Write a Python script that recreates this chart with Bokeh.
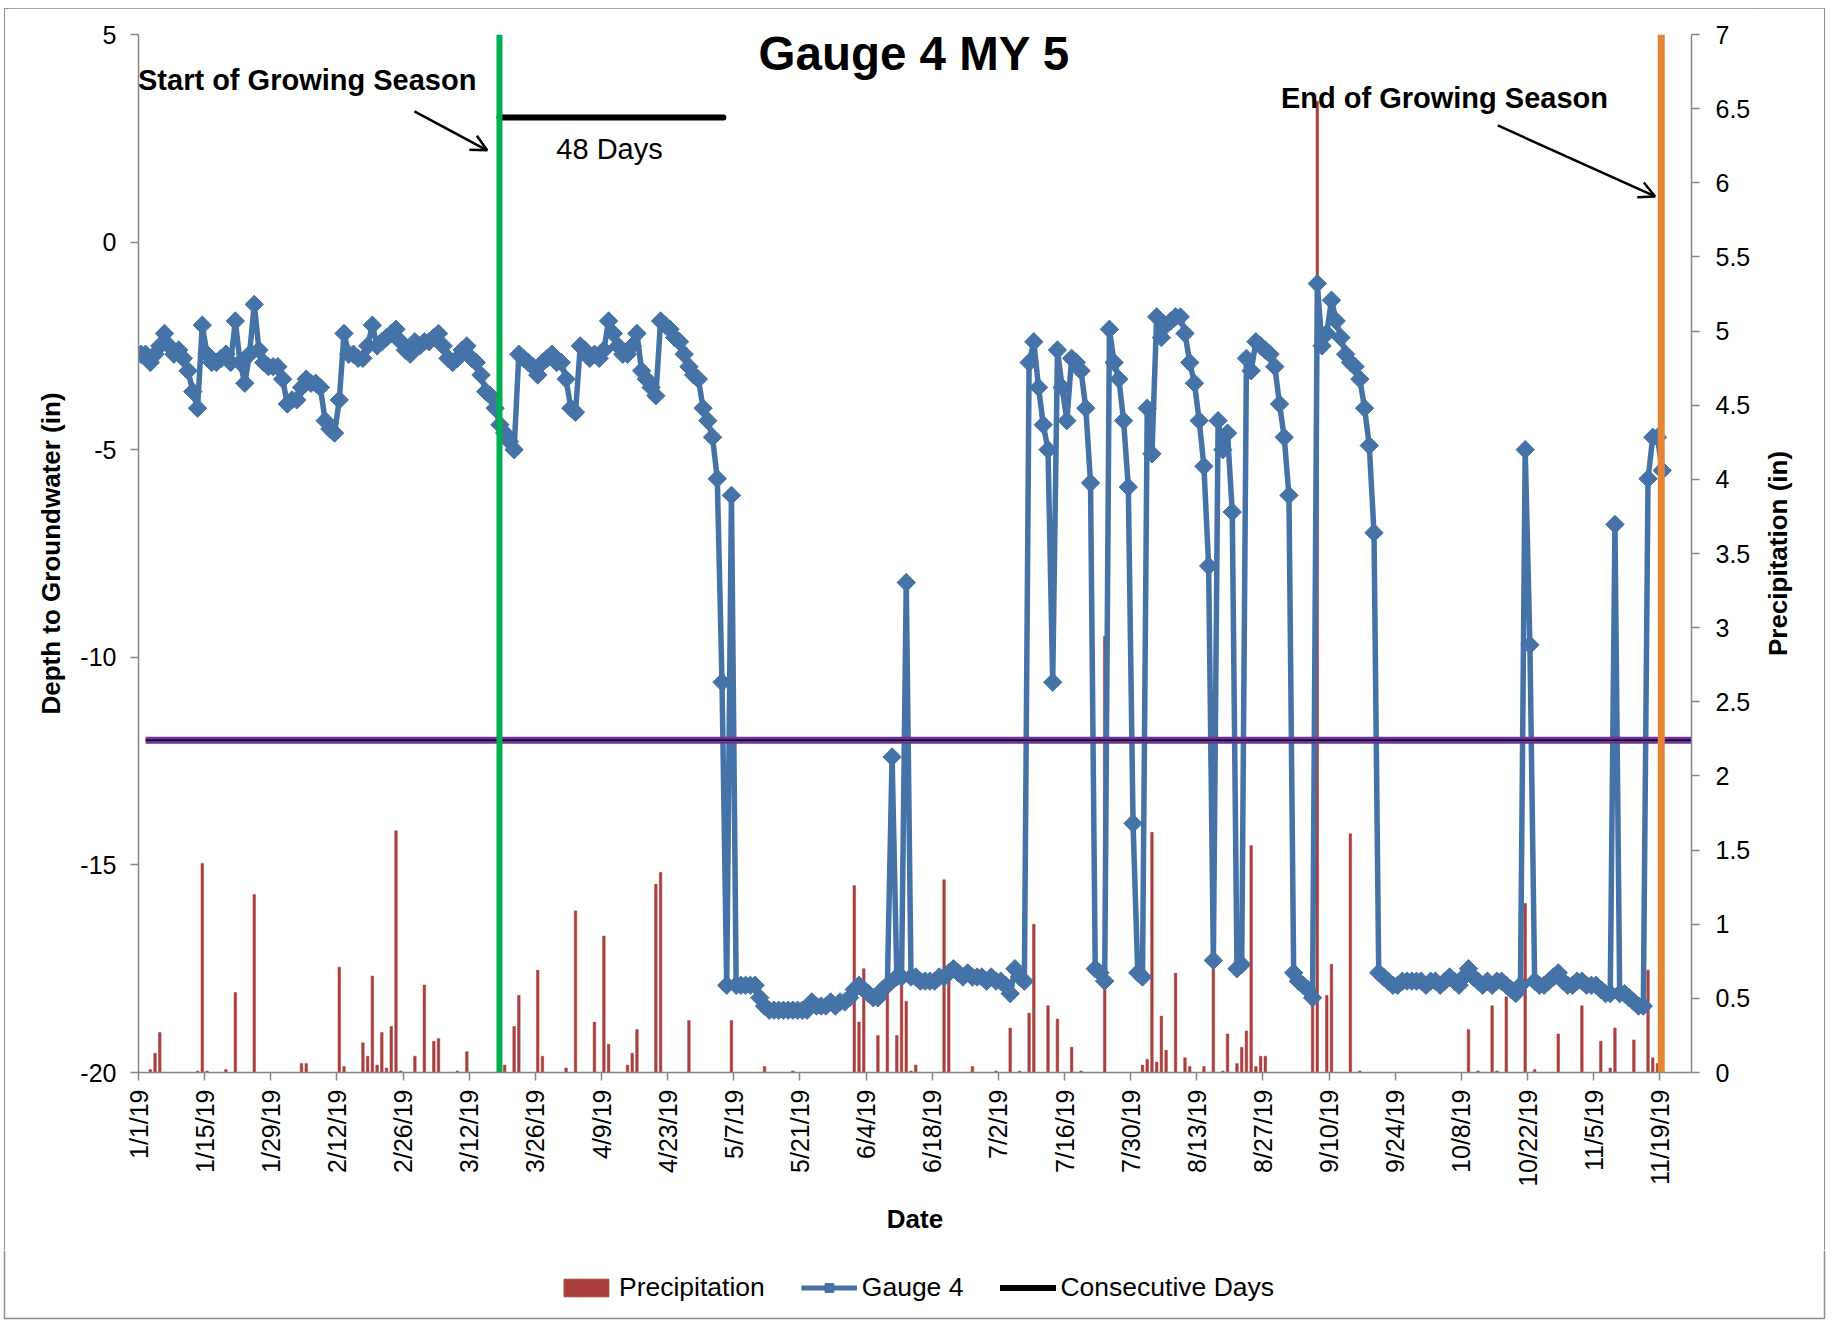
import math
from bokeh.plotting import figure
from bokeh.layouts import column, row
from bokeh.models import (Range1d, LinearAxis, FixedTicker, Label, Arrow, OpenHead,
                          Legend, LegendItem, Span, Div)
from bokeh.embed import file_html
from bokeh.resources import INLINE

# ---------------- data ----------------
# Daily depth to groundwater (in), Gauge 4, one value per day starting 1/1/19
gauge4_depth_in = [
    -2.7, -2.7, -2.9, -2.7, -2.5, -2.2, -2.5, -2.7, -2.6, -2.8,
    -3.1, -3.6, -4.0, -2.0, -2.7, -2.9, -2.9, -2.8, -2.7, -2.9,
    -1.9, -2.9, -3.4, -2.7, -1.5, -2.6, -2.9, -3.0, -3.0, -3.0,
    -3.3, -3.9, -3.8, -3.8, -3.5, -3.3, -3.4, -3.4, -3.5, -4.3,
    -4.5, -4.6, -3.8, -2.2, -2.7, -2.7, -2.8, -2.8, -2.5, -2.0,
    -2.5, -2.4, -2.3, -2.2, -2.1, -2.4, -2.6, -2.7, -2.4, -2.5,
    -2.4, -2.4, -2.3, -2.2, -2.5, -2.8, -2.9, -2.8, -2.6, -2.5,
    -2.8, -2.9, -3.2, -3.6, -3.7, -4.0, -4.4, -4.6, -4.8, -5.0,
    -2.7, -2.8, -2.9, -3.0, -3.2, -2.9, -2.8, -2.7, -2.9, -2.9,
    -3.3, -4.0, -4.1, -2.5, -2.6, -2.8, -2.7, -2.8, -2.6, -1.9,
    -2.2, -2.5, -2.7, -2.7, -2.5, -2.2, -3.1, -3.3, -3.5, -3.7,
    -1.9, -2.0, -2.1, -2.3, -2.4, -2.7, -3.0, -3.2, -3.3, -4.0,
    -4.3, -4.7, -5.7, -10.6, -17.9, -6.1, -17.9, -17.9, -17.9, -17.9,
    -17.9, -18.2, -18.4, -18.5, -18.5, -18.5, -18.5, -18.5, -18.5, -18.5,
    -18.5, -18.5, -18.3, -18.4, -18.4, -18.4, -18.3, -18.4, -18.3, -18.3,
    -18.2, -18.0, -17.9, -18.0, -18.1, -18.2, -18.2, -18.0, -17.9, -12.4,
    -17.7, -17.7, -8.2, -17.7, -17.7, -17.8, -17.8, -17.8, -17.8, -17.7,
    -17.7, -17.6, -17.5, -17.6, -17.7, -17.6, -17.7, -17.7, -17.7, -17.8,
    -17.7, -17.8, -17.8, -17.9, -18.1, -17.5, -17.7, -17.8, -2.9, -2.4,
    -3.5, -4.4, -5.0, -10.6, -2.6, -3.5, -4.3, -2.8, -2.9, -3.1,
    -4.0, -5.8, -17.5, -17.6, -17.8, -2.1, -2.9, -3.3, -4.3, -5.9,
    -14.0, -17.6, -17.7, -4.0, -5.1, -1.8, -2.3, -2.0, -1.9, -1.8,
    -1.8, -2.2, -2.9, -3.4, -4.3, -5.4, -7.8, -17.3, -4.3, -5.0,
    -4.6, -6.5, -17.5, -17.4, -2.8, -3.1, -2.4, -2.5, -2.6, -2.7,
    -3.0, -3.9, -4.7, -6.1, -17.6, -17.8, -17.9, -18.0, -18.2, -1.0,
    -2.5, -2.2, -1.4, -1.9, -2.3, -2.7, -2.9, -3.0, -3.3, -4.0,
    -4.9, -7.0, -17.6, -17.7, -17.8, -17.9, -17.9, -17.8, -17.8, -17.8,
    -17.8, -17.8, -17.9, -17.8, -17.8, -17.9, -17.8, -17.7, -17.8, -17.9,
    -17.7, -17.5, -17.7, -17.8, -17.9, -17.8, -17.9, -17.8, -17.8, -17.9,
    -18.0, -18.1, -17.9, -5.0, -9.7, -17.8, -17.9, -17.9, -17.8, -17.7,
    -17.6, -17.8, -17.9, -17.9, -17.8, -17.8, -17.9, -17.9, -17.9, -18.0,
    -18.1, -18.1, -6.8, -18.1, -18.1, -18.2, -18.3, -18.4, -18.4, -5.7,
    -4.7, -4.7, -5.5,
]

# Daily precipitation (in): day index (0 = 1/1/19) and amount
precip_day = [
    2, 3, 4, 12, 13, 14, 18, 20, 24, 34, 35, 42, 43, 47, 48, 49, 50, 51, 52, 53,
    54, 55, 58, 60, 62, 63, 67, 69, 77, 79, 80, 84, 85, 90, 92, 96, 98, 99, 103,
    104, 105, 109, 110, 116, 125, 132, 138, 151, 152, 153, 156, 158, 160, 161,
    162, 163, 164, 170, 171, 176, 181, 184, 186, 188, 189, 192, 194, 197, 199,
    204, 212, 213, 214, 215, 216, 217, 219, 221, 222, 225, 227, 229, 230, 232,
    233, 234, 235, 236, 237, 238, 248, 249, 251, 252, 256, 258, 281, 283, 286,
    287, 289, 293, 295, 300, 305, 309, 311, 312, 316, 319, 320, 321,
]
precip_in = [
    0.02, 0.13, 0.27, 0.01, 1.41, 0.01, 0.02, 0.54, 1.20, 0.06, 0.06, 0.71, 0.04,
    0.20, 0.11, 0.65, 0.05, 0.27, 0.03, 0.31, 1.63, 0.01, 0.11, 0.59, 0.21, 0.23,
    0.01, 0.14, 0.05, 0.31, 0.52, 0.69, 0.11, 0.03, 1.09, 0.34, 0.92, 0.19, 0.05,
    0.13, 0.29, 1.27, 1.35, 0.35, 0.35, 0.04, 0.01, 1.26, 0.34, 0.70, 0.25, 0.57,
    0.25, 0.59, 0.48, 0.01, 0.05, 1.30, 0.65, 0.04, 0.01, 0.30, 0.01, 0.40, 1.00,
    0.45, 0.36, 0.17, 0.01, 2.94, 0.05, 0.09, 1.62, 0.07, 0.38, 0.15, 0.67, 0.10,
    0.04, 0.04, 0.70, 0.01, 0.26, 0.06, 0.17, 0.28, 1.53, 0.04, 0.11, 0.11, 0.50,
    6.55, 0.52, 0.73, 1.61, 0.01, 0.29, 0.01, 0.45, 0.01, 0.51, 1.14, 0.02, 0.26,
    0.45, 0.21, 0.03, 0.30, 0.22, 0.69, 0.10, 0.06,
]

date_tick_day = [0, 14, 28, 42, 56, 70, 84, 98, 112, 126, 140, 154, 168, 182,
                 196, 210, 224, 238, 252, 266, 280, 294, 308, 322]
date_tick_labels = ["1/1/19", "1/15/19", "1/29/19", "2/12/19", "2/26/19", "3/12/19",
                    "3/26/19", "4/9/19", "4/23/19", "5/7/19", "5/21/19", "6/4/19",
                    "6/18/19", "7/2/19", "7/16/19", "7/30/19", "8/13/19", "8/27/19",
                    "9/10/19", "9/24/19", "10/8/19", "10/22/19", "11/5/19", "11/19/19"]
depth_ticks = [-20, -15, -10, -5, 0, 5]
depth_tick_labels = ["-20", "-15", "-10", "-5", "0", "5"]
precip_ticks = [0, 0.5, 1, 1.5, 2, 2.5, 3, 3.5, 4, 4.5, 5, 5.5, 6, 6.5, 7]
precip_tick_labels = ["0", "0.5", "1", "1.5", "2", "2.5", "3", "3.5", "4", "4.5",
                      "5", "5.5", "6", "6.5", "7"]

threshold_depth_in = [-12.0, -12.0]   # 12-inch criterion line
threshold_days = [1.5, 328.7]
season_start_day = 76.4               # 3/18/19
season_end_day = 322.3                # 11/19/19
consecutive_days_x = [76.4, 123.8]    # 48 consecutive days
consecutive_days_y = [3.0, 3.0]

FONT = "Liberation Sans"
BLUE = "#4572A7"
RED = "#A9403E"
AXIS_GREY = "#868686"
FRAME_GREY = "#8c8c8c"

gauge_x = [d + 0.5 for d in range(len(gauge4_depth_in))]
precip_x = [d + 0.5 for d in precip_day]


def strip(w, h):
    """Blank helper canvas whose data units equal pixels."""
    f = figure(width=w, height=h, output_backend="svg", toolbar_location=None,
               x_range=Range1d(0, w), y_range=Range1d(0, h),
               x_axis_location=None, y_axis_location=None,
               min_border_left=0, min_border_right=0, min_border_top=0,
               min_border_bottom=0, background_fill_color="white",
               border_fill_color="white")
    f.outline_line_color = None
    f.grid.visible = False
    return f


# ---------------- main figure ----------------
p = figure(width=1747, height=1242, output_backend="svg", toolbar_location=None,
           x_range=Range1d(0, 328.7), y_range=Range1d(-20, 5),
           min_border_left=130, min_border_right=64, min_border_top=26,
           min_border_bottom=178, background_fill_color="white",
           border_fill_color="white")
p.outline_line_color = None
p.xgrid.visible = False
p.ygrid.visible = False
p.extra_y_ranges = {"precip": Range1d(0, 7)}

bars = p.vbar(x=precip_x, top=precip_in, bottom=0, width=0.55, y_range_name="precip",
              fill_color=RED, line_color=RED, line_width=0.5)

gline = p.line(gauge_x, gauge4_depth_in, line_color=BLUE, line_width=5.5,
               line_join="round")
gpts = p.scatter(gauge_x, gauge4_depth_in, marker="square", angle=math.pi / 4,
                 size=13, fill_color=BLUE, line_color=BLUE)

cline = p.line(consecutive_days_x, consecutive_days_y, line_color="black",
               line_width=6, line_cap="round")

p.line(threshold_days, threshold_depth_in, line_color="#7030A0", line_width=7)
p.line(threshold_days, threshold_depth_in, line_color="black", line_width=1.5)
p.add_layout(Span(location=season_start_day, dimension="height",
                  line_color="#00B050", line_width=6))
p.add_layout(Span(location=season_end_day, dimension="height",
                  line_color="#E58533", line_width=7))

# ---------------- axes ----------------
def style_axis(ax):
    ax.axis_line_color = AXIS_GREY
    ax.axis_line_width = 1.5
    ax.major_tick_line_color = AXIS_GREY
    ax.major_tick_line_width = 1.5
    ax.major_tick_in = 0
    ax.major_tick_out = 8
    ax.minor_tick_line_color = None
    ax.major_label_text_font = FONT
    ax.major_label_text_font_size = "25px"
    ax.major_label_text_color = "black"
    ax.axis_label_text_font = FONT
    ax.axis_label_text_font_size = "26px"
    ax.axis_label_text_font_style = "bold"
    ax.axis_label_text_color = "black"

xa = p.xaxis[0]
style_axis(xa)
xa.ticker = FixedTicker(ticks=date_tick_day)
xa.major_label_overrides = {d: s for d, s in zip(date_tick_day, date_tick_labels)}
xa.major_label_orientation = math.pi / 2
xa.major_label_standoff = 9
xa.axis_label = "Date"
xa.axis_label_standoff = 14

ya = p.yaxis[0]
style_axis(ya)
ya.ticker = FixedTicker(ticks=depth_ticks)
ya.major_label_overrides = {v: s for v, s in zip(depth_ticks, depth_tick_labels)}
ya.major_label_standoff = 14
ya.axis_label = "Depth to Groundwater (in)"
ya.axis_label_standoff = 11

yr = LinearAxis(y_range_name="precip")
style_axis(yr)
yr.ticker = FixedTicker(ticks=precip_ticks)
yr.major_label_overrides = {v: s for v, s in zip(precip_ticks, precip_tick_labels)}
yr.major_label_standoff = 16
p.add_layout(yr, "right")

# ---------------- annotations ----------------
def text_label(x, y, text, size, bold=True, align="left", **kw):
    return Label(x=x, y=y, text=text, text_font=FONT, text_font_size=size,
                 text_font_style="bold" if bold else "normal", text_color="black",
                 text_align=align, text_baseline="middle", **kw)

p.add_layout(text_label(164.2, 4.55, "Gauge 4 MY 5", "47.5px", align="center"))
p.add_layout(text_label(-0.1, 3.91, "Start of Growing Season", "29px"))
p.add_layout(text_label(241.8, 3.46, "End of Growing Season", "29px"))
p.add_layout(text_label(99.7, 2.25, "48 Days", "29px", bold=False, align="center"))
p.add_layout(Arrow(x_start=58.4, y_start=3.15, x_end=73.8, y_end=2.21,
                   line_color="black", line_width=2.5,
                   end=OpenHead(size=16, line_width=2.5, line_color="black")))
p.add_layout(Arrow(x_start=287.7, y_start=2.81, x_end=321.0, y_end=1.10,
                   line_color="black", line_width=2.5,
                   end=OpenHead(size=16, line_width=2.5, line_color="black")))

# ---------------- chart-area border pieces + right-hand axis title ----------------
EDGE = "1.5px solid " + FRAME_GREY
top = Div(width=1832, height=8, margin=0,
          text=('<div style="padding:4px 0 0 4px;margin:0">'
                '<div style="width:1820px;height:4px;box-sizing:border-box;'
                f'border-top:{EDGE};border-left:{EDGE};border-right:{EDGE}"></div></div>'))
lft = Div(width=8, height=1242, margin=0,
          text=('<div style="margin:0 0 0 4px;width:0;height:1242px;'
                f'border-left:{EDGE}"></div>'))
rgt = Div(width=8, height=1242, margin=0,
          text=('<div style="margin:0;width:0;height:1242px;'
                f'border-left:{EDGE}"></div>'))

r = strip(69, 1242)
r.add_layout(text_label(22, 621, "Precipitation (in)", "26px", align="center",
                        angle=math.pi / 2))

# ---------------- legend strip (below the chart) ----------------
q = strip(1832, 74)
q.line([4, 4, 1824, 1824], [74, 6, 6, 74], line_color=FRAME_GREY, line_width=1.5)
lg_bar = q.vbar(x=[-50], top=[-5], bottom=-6, width=1, fill_color=RED, line_color=RED)
lg_line = q.line([-60, -50], [-5, -5], line_color=BLUE, line_width=5)
lg_pts = q.scatter([-50], [-5], marker="square", angle=math.pi / 4, size=12,
                   fill_color=BLUE, line_color=BLUE)
lg_cons = q.line([-60, -50], [-5, -5], line_color="black", line_width=6,
                 line_cap="round")

legend = Legend(items=[LegendItem(label="Precipitation", renderers=[lg_bar]),
                       LegendItem(label="Gauge 4", renderers=[lg_line, lg_pts]),
                       LegendItem(label="Consecutive Days", renderers=[lg_cons])],
                location="center", orientation="horizontal",
                label_text_font=FONT, label_text_font_size="26.5px",
                label_text_color="black",
                glyph_width=56, glyph_height=22, label_standoff=5, spacing=36,
                padding=0, margin=0, border_line_color=None,
                background_fill_alpha=0)
q.add_layout(legend)

layout = column(top, row(lft, p, r, rgt, spacing=0), q, spacing=0)

open("out.html", "w").write(file_html(layout, INLINE))
